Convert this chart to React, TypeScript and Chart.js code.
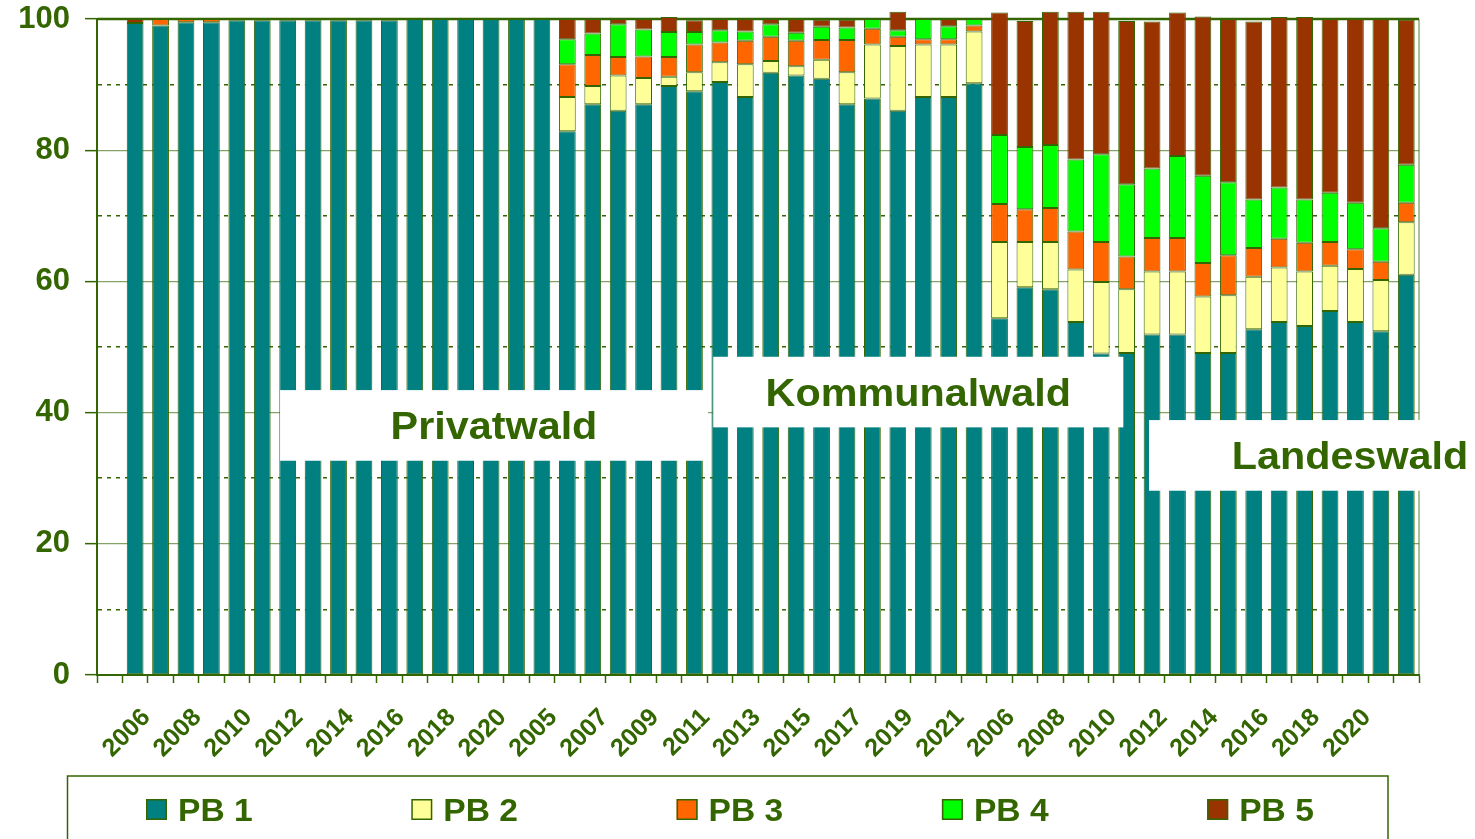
import React, { useEffect, useRef } from 'react';
import { Chart, registerables } from 'chart.js';

Chart.register(...registerables);

const GREEN = '#336600';
const FONT = "'Liberation Sans', Arial, Helvetica, sans-serif";

// ---- data -------------------------------------------------------------
const years = [
  '2005', '2006', '2007', '2008', '2009', '2010', '2011', '2012', '2013',
  '2014', '2015', '2016', '2017', '2018', '2019', '2020', '2021',
];
// first slot is an empty category, then Privatwald, Kommunalwald, Landeswald
const categories = ['', ...years, ...years, ...years];

const seriesNames = ['PB 1', 'PB 2', 'PB 3', 'PB 4', 'PB 5'];
const seriesColors = ['#008080', '#FFFF99', '#FF6600', '#00FF00', '#993300'];

const pb1 = [
  // Privatwald
  99.4, 99.0, 99.5, 99.5, 99.8, 99.8, 99.8, 99.8, 99.8, 99.8, 99.8, 100, 100, 100, 100, 100, 100,
  // Kommunalwald
  82.9, 87.0, 86.0, 87.0, 89.8, 89.0, 90.4, 88.1, 91.8, 91.4, 90.9, 87.0, 87.9, 86.0, 88.1, 88.1, 90.2,
  // Landeswald
  54.4, 59.1, 58.8, 53.8, 49.0, 49.1, 51.9, 51.9, 49.1, 49.1, 52.7, 53.8, 53.2, 55.5, 53.8, 52.4, 61.0,
];
const pb2 = [
  0, 0, 0, 0, 0, 0, 0, 0, 0, 0, 0, 0, 0, 0, 0, 0, 0,
  5.2, 2.8, 5.4, 4.0, 1.4, 2.9, 3.0, 5.0, 1.8, 1.4, 2.9, 4.9, 8.2, 9.9, 8.0, 8.0, 7.9,
  11.6, 6.9, 7.2, 8.0, 10.9, 9.7, 9.6, 9.6, 8.6, 8.8, 8.0, 8.3, 8.3, 6.9, 8.1, 7.8, 8.0,
];
const pb3 = [
  0, 1.0, 0.5, 0.5, 0, 0, 0, 0, 0, 0, 0, 0, 0, 0, 0, 0, 0,
  5.0, 4.7, 2.8, 3.3, 3.0, 4.2, 3.0, 3.6, 3.7, 3.9, 3.0, 4.9, 2.4, 1.4, 0.8, 0.8, 0.9,
  5.8, 5.0, 5.2, 5.8, 6.1, 5.0, 5.1, 5.1, 5.1, 6.1, 4.4, 4.4, 4.4, 3.6, 3.0, 2.8, 3.0,
];
const pb4 = [
  0, 0, 0, 0, 0, 0, 0, 0, 0, 0, 0, 0, 0, 0, 0, 0, 0,
  3.8, 3.3, 5.0, 4.1, 3.8, 1.9, 1.9, 1.4, 1.9, 1.2, 2.0, 1.9, 1.5, 1.0, 3.1, 2.0, 1.0,
  10.5, 9.5, 9.6, 11.0, 13.4, 11.0, 10.6, 12.5, 13.3, 11.1, 7.4, 7.8, 6.6, 7.5, 7.1, 5.1, 5.8,
];
const pb5 = [
  0.6, 0, 0, 0, 0, 0, 0, 0, 0, 0, 0, 0, 0, 0, 0, 0, 0,
  3.1, 2.2, 0.8, 1.6, 2.3, 1.8, 1.7, 1.9, 0.8, 2.1, 1.1, 1.2, 0, 2.8, 0, 1.1, 0,
  18.7, 19.2, 20.3, 22.5, 21.7, 24.9, 22.4, 21.9, 24.3, 24.9, 27.1, 26.0, 27.8, 26.5, 28.0, 31.9, 22.1,
];
const seriesValues = [pb1, pb2, pb3, pb4, pb5];

const yMin = 0;
const yMax = 100;
const yStep = 10;
const yLabelStep = 20;

// group captions (category index range, value range)
const groupLabels = ['Privatwald', 'Kommunalwald', 'Landeswald'];
const groupBoxFrom = [6.7, 23.74, 40.88];
const groupBoxTo = [23.53, 39.87, 56.69];
const groupBoxTop = [43.43, 48.51, 38.86];
const groupBoxBottom = [32.66, 37.75, 28.09];

// ---- plugins ----------------------------------------------------------
const framePlugin = {
  id: 'frame',
  beforeDatasetsDraw(chart: any) {
    const { ctx, chartArea } = chart;
    ctx.save();
    ctx.strokeStyle = 'rgba(51,102,0,0.55)';
    ctx.lineWidth = 1.5;
    ctx.beginPath();
    ctx.moveTo(chartArea.right, chartArea.top);
    ctx.lineTo(chartArea.right, chartArea.bottom);
    ctx.stroke();
    ctx.strokeStyle = GREEN;
    ctx.lineWidth = 2.5;
    ctx.beginPath();
    ctx.moveTo(chartArea.left, chartArea.top);
    ctx.lineTo(chartArea.right, chartArea.top);
    ctx.stroke();
    ctx.restore();
  },
};

const groupPlugin = {
  id: 'groups',
  afterDatasetsDraw(chart: any) {
    const { ctx } = chart;
    const xs = chart.scales.x;
    const ys = chart.scales.y;
    ctx.save();
    groupLabels.forEach((text, i) => {
      const x1 = xs.getPixelForValue(groupBoxFrom[i]);
      const x2 = xs.getPixelForValue(groupBoxTo[i]);
      const y1 = ys.getPixelForValue(groupBoxTop[i]);
      const y2 = ys.getPixelForValue(groupBoxBottom[i]);
      ctx.fillStyle = '#ffffff';
      ctx.fillRect(x1, y1, x2 - x1, y2 - y1);
      const size = 39;
      ctx.font = `bold ${size}px ${FONT}`;
      ctx.fillStyle = GREEN;
      ctx.textAlign = 'center';
      ctx.textBaseline = 'alphabetic';
      ctx.save();
      ctx.translate((x1 + x2) / 2, (y1 + y2) / 2 + size * 0.36);
      ctx.scale(1.06, 1);
      ctx.fillText(text, 0, 0);
      ctx.restore();
    });
    ctx.restore();
  },
};

const legendPlugin = {
  id: 'boxLegend',
  afterDraw(chart: any) {
    const { ctx } = chart;
    ctx.save();
    ctx.strokeStyle = GREEN;
    ctx.lineWidth = 1.5;
    ctx.strokeRect(67.5, 776, 1320.5, 90);
    ctx.font = `bold 32px ${FONT}`;
    ctx.textAlign = 'left';
    ctx.textBaseline = 'alphabetic';
    chart.data.datasets.forEach((ds: any, i: number) => {
      const x = 146 + i * 265.3;
      ctx.fillStyle = ds.backgroundColor;
      ctx.fillRect(x, 799, 21, 21);
      ctx.strokeStyle = GREEN;
      ctx.lineWidth = 1.5;
      ctx.strokeRect(x + 0.75, 799.75, 19.5, 19.5);
      ctx.fillStyle = GREEN;
      ctx.save();
      ctx.translate(x + 32, 821);
      ctx.scale(1.05, 1);
      ctx.fillText(ds.label, 0, 0);
      ctx.restore();
    });
    ctx.restore();
  },
};

// ---- component --------------------------------------------------------
export default function App() {
  const canvasRef = useRef<HTMLCanvasElement | null>(null);

  useEffect(() => {
    const canvas = canvasRef.current;
    if (!canvas) return;
    const chart = new Chart(canvas, {
      type: 'bar',
      data: {
        labels: categories,
        datasets: seriesNames.map((name, i) => ({
          label: name,
          data: [null, ...seriesValues[i]],
          backgroundColor: seriesColors[i],
          borderColor: GREEN,
          borderWidth: 1,
          borderSkipped: false,
          stack: 'pb',
          barPercentage: 0.66,
          categoryPercentage: 1,
          clip: false as any,
        })),
      },
      options: {
        responsive: false,
        devicePixelRatio: 1,
        animation: false,
        layout: { padding: { left: 0, top: 19, right: 56, bottom: 0 } },
        plugins: {
          legend: { display: false },
          tooltip: { enabled: false },
        },
        scales: {
          x: {
            stacked: true,
            offset: true,
            afterFit: (s: any) => {
              s.height = 164;
              s.paddingLeft = 0;
              s.paddingRight = 0;
            },
            grid: {
              offset: true,
              drawOnChartArea: false,
              drawTicks: true,
              tickLength: 8,
              tickColor: GREEN,
              tickWidth: 1.5,
            },
            border: { display: true, color: GREEN, width: 2 },
            ticks: {
              autoSkip: false,
              maxRotation: 45,
              minRotation: 45,
              padding: 20,
              labelOffset: -14,
              color: GREEN,
              font: { family: FONT, size: 25, weight: 'bold' },
              callback: (_v: any, idx: number) => (idx % 2 === 0 ? categories[idx] : ''),
            },
          },
          y: {
            stacked: true,
            min: yMin,
            max: yMax,
            afterFit: (s: any) => {
              s.width = 97;
              s.paddingTop = 0;
              s.paddingBottom = 0;
            },
            grid: {
              color: (c: any) => {
                const v = c.tick ? c.tick.value : 0;
                if (v === yMin || v === yMax) return 'rgba(0,0,0,0)';
                return v % yLabelStep === 0 ? 'rgba(51,102,0,0.6)' : GREEN;
              },
              lineWidth: (c: any) => {
                const v = c.tick ? c.tick.value : 0;
                return v % yLabelStep === 0 ? 1.3 : 1.5;
              },
              drawTicks: true,
              tickLength: 12,
              tickWidth: 1.5,
              tickColor: (c: any) => {
                const v = c.tick ? c.tick.value : 0;
                return v % yLabelStep === 0 ? GREEN : 'rgba(0,0,0,0)';
              },
            },
            border: {
              display: true,
              color: GREEN,
              width: 2,
              dash: (c: any) => (c.tick && c.tick.value % yLabelStep !== 0 ? [4, 5] : []),
            } as any,
            ticks: {
              stepSize: yStep,
              padding: 15,
              color: GREEN,
              font: { family: FONT, size: 31, weight: 'bold' },
              callback: (v: any) => (Number(v) % yLabelStep === 0 ? String(v) : ''),
            },
          },
        },
      },
      plugins: [framePlugin, groupPlugin, legendPlugin],
    } as any);
    return () => chart.destroy();
  }, []);

  return (
    <div style={{ position: 'absolute', left: 0, top: 0, width: 1475, height: 839, background: '#fff' }}>
      <canvas ref={canvasRef} width={1475} height={839} style={{ display: 'block' }} />
    </div>
  );
}
